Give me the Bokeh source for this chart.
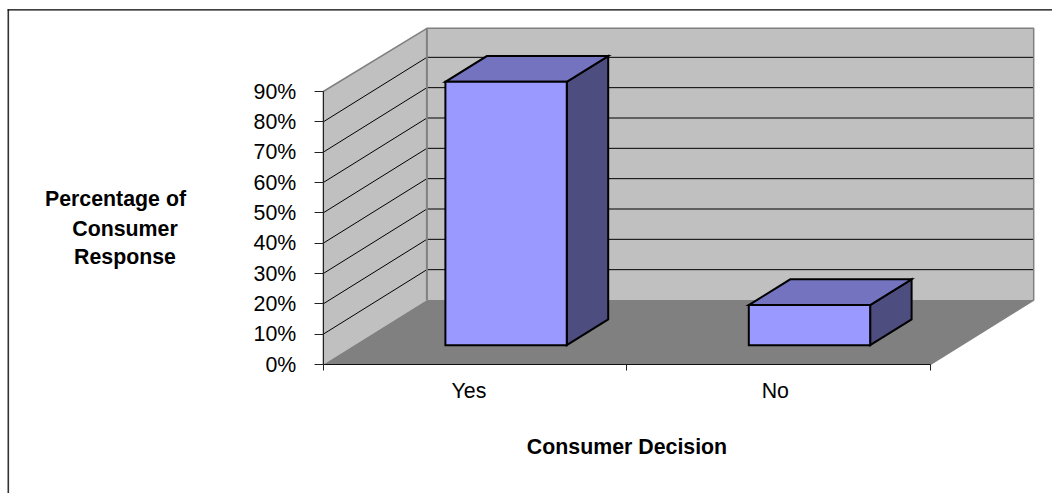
from bokeh.plotting import figure
from bokeh.embed import file_html
from bokeh.resources import INLINE
from bokeh.core.properties import value
from bokeh.models import Range1d, FixedTicker, LinearAxis, PrintfTickFormatter

categories = ["Yes", "No"]
values = [86.8, 13.2]
y_ticks = [0, 10, 20, 30, 40, 50, 60, 70, 80, 90]
y_max = 90
y_title_lines = ["Percentage of", "Consumer", "Response"]
x_title = "Consumer Decision"

WIDTH, HEIGHT = 1052, 493
LEFT, BASE = 322.8, 364      # page position of the chart origin
PX_X = 303.4                 # px per category
PX_Y = 273 / 90              # px per percent
DEPTH_X = 103.6 / PX_X
DEPTH_Y = 64.5 / PX_Y
WALL_BACK_TOP = y_max - 0.45  # back edge of the walls sits a little lower
FONT = "Liberation Sans"
FONT_SIZE = "16pt"
LABEL_POS = [0.48, 1.49]     # slightly off-centre category labels

FRONT = "#9999FF"
TOP = "#7373BF"
SIDE = "#4D4D80"
WALL = "#C0C0C0"
FLOOR = "#808080"


def pr(x, y, d):
    return x + d * DEPTH_X, y + d * DEPTH_Y


def poly(*pts):
    pp = [pr(*q) for q in pts]
    return [a for a, _ in pp], [b for _, b in pp]


def dx(px):
    return (px - LEFT) / PX_X


def dy(py):
    return (BASE - py) / PX_Y


p = figure(width=WIDTH, height=HEIGHT, output_backend="svg", toolbar_location=None,
           x_range=Range1d(dx(0), dx(WIDTH)), y_range=Range1d(dy(HEIGHT), dy(0)),
           x_axis_type=None, y_axis_type=None,
           min_border_left=0, min_border_right=0, min_border_top=0, min_border_bottom=0,
           outline_line_color=None, background_fill_color="white", border_fill_color="white")
p.grid.visible = False

nc = len(categories)

# walls and floor
xs, ys = poly((0, 0, 0), (0, y_max, 0), (0, WALL_BACK_TOP, 1), (0, 0, 1))
p.patch(xs, ys, fill_color=WALL, line_color=None)
xs, ys = poly((0, 0, 1), (0, WALL_BACK_TOP, 1), (nc, WALL_BACK_TOP, 1), (nc, 0, 1))
p.patch(xs, ys, fill_color=WALL, line_color=None)
xs, ys = poly((0, 0, 0), (nc, 0, 0), (nc, 0, 1), (0, 0, 1))
p.patch(xs, ys, fill_color=FLOOR, line_color=None)

# gridlines
for t in y_ticks[1:-1]:
    xs, ys = poly((0, t, 0), (0, t, 1), (nc, t, 1))
    p.line(xs, ys, line_color="#000000", line_width=1)

# wall outline
xs, ys = poly((0, 0, 0), (0, y_max, 0), (0, WALL_BACK_TOP, 1), (nc, WALL_BACK_TOP, 1),
              (nc, 0, 1), (nc, 0, 0))
p.line(xs, ys, line_color=FLOOR, line_width=1.5)
xs, ys = poly((0, 0, 1), (0, WALL_BACK_TOP, 1))
p.line(xs, ys, line_color=FLOOR, line_width=2)

# bars
for i, v in enumerate(values):
    x0, x1 = i + 0.3, i + 0.7
    d0, d1 = 0.3, 0.7
    for pts, col in (
        (((x1, 0, d0), (x1, 0, d1), (x1, v, d1), (x1, v, d0)), SIDE),
        (((x0, v, d0), (x1, v, d0), (x1, v, d1), (x0, v, d1)), TOP),
        (((x0, 0, d0), (x1, 0, d0), (x1, v, d0), (x0, v, d0)), FRONT),
    ):
        xs, ys = poly(*pts)
        p.patch(xs, ys, fill_color=col, line_color="#000000", line_width=2,
                line_join="miter")

# axes, pinned to the chart origin inside the frame
yax = LinearAxis(ticker=FixedTicker(ticks=y_ticks), bounds=(0, y_max),
                 formatter=PrintfTickFormatter(format="%d%%"), fixed_location=0)
yax.axis_line_color = "#222222"
yax.major_tick_in = 0
yax.major_tick_out = 9
yax.minor_tick_line_color = None
yax.major_tick_line_color = "#222222"
yax.major_label_text_font = FONT
yax.major_label_text_font_size = FONT_SIZE
yax.major_label_text_color = "#000000"
yax.major_label_standoff = 18
p.add_layout(yax, "left")

xax = LinearAxis(ticker=FixedTicker(ticks=LABEL_POS, minor_ticks=list(range(nc + 1))),
                 bounds=(0, nc), fixed_location=0,
                 major_label_overrides={q: c for q, c in zip(LABEL_POS, categories)})
xax.axis_line_color = "#111111"
xax.major_tick_in = 0
xax.major_tick_out = 0
xax.minor_tick_in = 0
xax.minor_tick_out = 6
xax.minor_tick_line_color = "#222222"
xax.major_label_text_font = FONT
xax.major_label_text_font_size = FONT_SIZE
xax.major_label_text_color = "#000000"
xax.major_label_standoff = 8
p.add_layout(xax, "below")

# titles
p.text(x=[dx(626.5)], y=[dy(446)], text=[x_title], text_align="center", text_baseline="middle",
       text_font=value(FONT), text_font_size=value(FONT_SIZE), text_font_style="bold",
       text_color="#000000")
p.text(x=[dx(115), dx(124.5), dx(124.5)], y=[dy(198), dy(228), dy(256)], text=y_title_lines,
       text_align="center", text_baseline="middle", text_font=value(FONT),
       text_font_size=value(FONT_SIZE), text_font_style="bold", text_color="#000000")

# outer border: top and left edges only
p.line([dx(7.8), dx(7.8)], [dy(9), dy(HEIGHT)], line_color="#333333", line_width=1.6)
p.line([dx(7), dx(WIDTH)], [dy(9.4), dy(9.4)], line_color="#000000", line_width=1.2)

open("out.html", "w").write(file_html(p, INLINE))
